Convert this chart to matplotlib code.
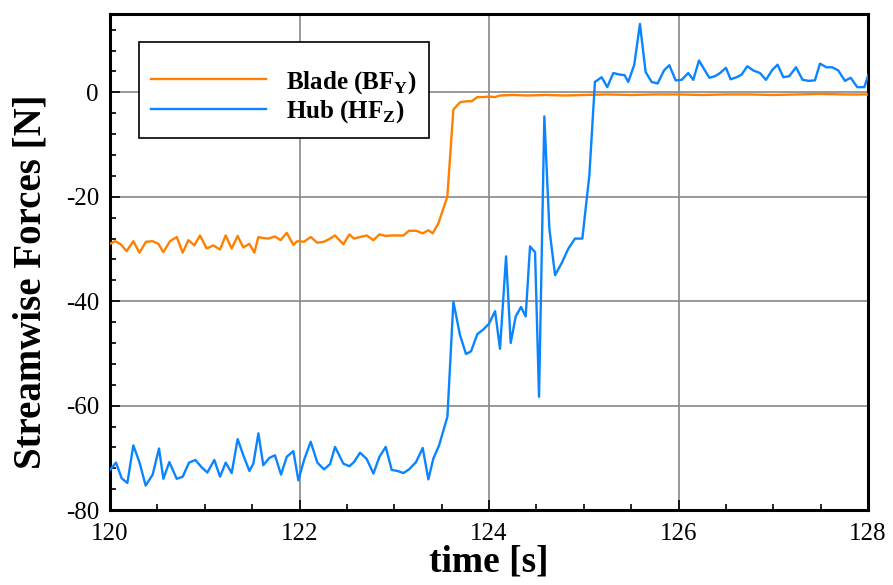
import matplotlib
matplotlib.use("Agg")
import matplotlib.pyplot as plt
from matplotlib.ticker import MultipleLocator

plt.rcParams['font.family'] = ['Liberation Serif', 'DejaVu Serif']
plt.rcParams['mathtext.fontset'] = 'custom'
plt.rcParams['mathtext.rm'] = 'Liberation Serif'
plt.rcParams['mathtext.bf'] = 'Liberation Serif:bold'
plt.rcParams['axes.unicode_minus'] = False

# Hub force (HF_Z)
hub_t = [120.000, 120.063, 120.123, 120.183, 120.246, 120.310, 120.376, 120.450, 120.517, 120.563,
         120.626, 120.704, 120.767, 120.834, 120.901, 120.967, 121.027, 121.101, 121.161, 121.221,
         121.284, 121.347, 121.407, 121.471, 121.513, 121.566, 121.618, 121.682, 121.741, 121.805,
         121.865, 121.935, 121.988, 122.048, 122.118, 122.188, 122.259, 122.322, 122.375, 122.463,
         122.526, 122.575, 122.639, 122.709, 122.780, 122.843, 122.910, 122.973, 123.033, 123.096,
         123.156, 123.230, 123.300, 123.360, 123.413, 123.473, 123.561, 123.624, 123.694, 123.757,
         123.810, 123.877, 123.940, 124.000, 124.064, 124.116, 124.180, 124.229, 124.282, 124.338,
         124.387, 124.433, 124.486, 124.528, 124.584, 124.637, 124.697, 124.767, 124.838, 124.908,
         124.985, 125.059, 125.118, 125.189, 125.248, 125.312, 125.382, 125.430, 125.470, 125.533,
         125.593, 125.653, 125.716, 125.780, 125.847, 125.903, 125.970, 126.033, 126.103, 126.156,
         126.216, 126.269, 126.325, 126.385, 126.438, 126.501, 126.550, 126.614, 126.666, 126.726,
         126.789, 126.860, 126.923, 126.990, 127.046, 127.106, 127.169, 127.240, 127.310, 127.377,
         127.440, 127.493, 127.563, 127.623, 127.686, 127.757, 127.817, 127.887, 127.961, 128.003]
hub_f = [-72.3, -70.9, -73.9, -74.8, -67.6, -70.8, -75.3, -73.2, -68.2, -74.0,
         -70.8, -74.0, -73.6, -70.9, -70.4, -71.8, -72.8, -70.4, -73.6, -70.9,
         -72.9, -66.4, -69.5, -72.5, -71.1, -65.3, -71.4, -70.0, -69.5, -73.2,
         -69.8, -68.7, -74.3, -70.4, -66.9, -70.9, -72.2, -71.2, -67.9, -71.1,
         -71.6, -70.8, -69.0, -70.2, -73.0, -69.8, -67.9, -72.3, -72.5, -72.9,
         -72.2, -70.8, -68.1, -74.1, -70.1, -67.6, -62.1, -40.1, -46.5, -50.1,
         -49.6, -46.3, -45.4, -44.3, -41.9, -49.1, -31.4, -48.0, -42.9, -41.1,
         -42.9, -29.5, -30.6, -58.3, -4.6, -26.1, -35.0, -32.7, -29.9, -28.0,
         -28.0, -15.9, 2.0, 2.9, 1.0, 3.7, 3.4, 3.3, 2.0, 5.3,
         13.1, 3.9, 2.0, 1.7, 4.2, 5.2, 2.3, 2.4, 3.7, 2.4,
         6.1, 4.5, 2.8, 3.1, 3.7, 4.7, 2.5, 2.9, 3.4, 5.0,
         4.2, 3.7, 2.4, 4.3, 5.3, 2.9, 3.1, 4.8, 2.4, 2.2,
         2.3, 5.5, 4.8, 4.8, 4.2, 2.2, 2.8, 1.0, 1.0, 3.3]

# Blade force (BF_Y)
blade_t = [120.000, 120.053, 120.113, 120.176, 120.246, 120.310, 120.380, 120.450, 120.510, 120.563,
           120.633, 120.704, 120.767, 120.827, 120.890, 120.950, 121.020, 121.091, 121.161, 121.221,
           121.284, 121.347, 121.407, 121.471, 121.523, 121.566, 121.618, 121.671, 121.741, 121.801,
           121.865, 121.935, 121.977, 122.048, 122.118, 122.188, 122.259, 122.322, 122.375, 122.463,
           122.526, 122.575, 122.639, 122.709, 122.780, 122.843, 122.910, 122.973, 123.033, 123.096,
           123.156, 123.230, 123.300, 123.360, 123.406, 123.465, 123.560, 123.624, 123.694, 123.765,
           123.817, 123.877, 123.940, 124.000, 124.064, 124.116, 124.250, 124.400, 124.600, 124.800,
           125.000, 125.250, 125.500, 125.750, 126.000, 126.250, 126.500, 126.750, 127.000, 127.250,
           127.500, 127.750, 128.000]
blade_f = [-29.0, -28.5, -29.1, -30.4, -28.5, -30.7, -28.6, -28.5, -29.0, -30.6,
           -28.5, -27.7, -30.7, -28.3, -29.3, -27.4, -29.9, -29.3, -30.1, -27.4,
           -29.9, -27.5, -29.7, -29.0, -30.7, -27.7, -27.9, -28.0, -27.6, -28.3,
           -26.9, -29.2, -28.5, -28.6, -27.7, -28.8, -28.6, -28.0, -27.4, -29.1,
           -27.2, -28.0, -27.7, -27.4, -28.3, -27.2, -27.5, -27.4, -27.4, -27.4,
           -26.5, -26.5, -27.0, -26.4, -27.0, -25.1, -20.0, -3.3, -1.9, -1.7,
           -1.7, -0.9, -0.9, -0.8, -0.9, -0.6, -0.5, -0.6, -0.5, -0.6,
           -0.5, -0.4, -0.5, -0.4, -0.4, -0.5, -0.4, -0.4, -0.5, -0.4,
           -0.3, -0.4, -0.4]

fig = plt.figure(figsize=(8.93, 5.85), dpi=100)
ax = fig.add_axes([0.1232, 0.128, 0.8488, 0.848])

ax.plot(blade_t, blade_f, color='#ff8000', lw=1.7, label=r'Blade (BF$_\mathbf{Y}$)', zorder=3)
ax.plot(hub_t, hub_f, color='#0a84ff', lw=1.7, label=r'Hub (HF$_\mathbf{Z}$)', zorder=3)

ax.set_xlim(120, 128)
ax.set_ylim(-80, 15)
ax.xaxis.set_major_locator(MultipleLocator(2))
ax.xaxis.set_minor_locator(MultipleLocator(0.5))
ax.yaxis.set_major_locator(MultipleLocator(20))
ax.yaxis.set_minor_locator(MultipleLocator(4))
ax.tick_params(which='both', direction='in', top=False, right=False, labelsize=18, width=1.2)
ax.tick_params(which='major', length=7)
ax.tick_params(which='minor', length=4.5)
ax.tick_params(axis='x', which='major', pad=9)
ax.tick_params(axis='y', which='major', pad=8)
ax.grid(True, which='major', color='#888888', lw=1.2)
for s in ax.spines.values():
    s.set_linewidth(2.2)

ax.set_xlabel('time [s]', fontsize=27, fontweight='bold', labelpad=0)
ax.set_ylabel('Streamwise Forces [N]', fontsize=28, fontweight='bold')
ax.yaxis.set_label_coords(-0.08, 0.46)

leg = ax.legend(loc='upper left', bbox_to_anchor=(0.038, 0.944), borderaxespad=0,
                fancybox=False, framealpha=1, edgecolor='black', handlelength=4.6,
                prop={'weight': 'bold', 'size': 18}, borderpad=0.5, labelspacing=0.1,
                handletextpad=0.8, title=' ', title_fontsize=9)
leg.get_frame().set_linewidth(1.2)

fig.savefig('out.png', dpi=100)
